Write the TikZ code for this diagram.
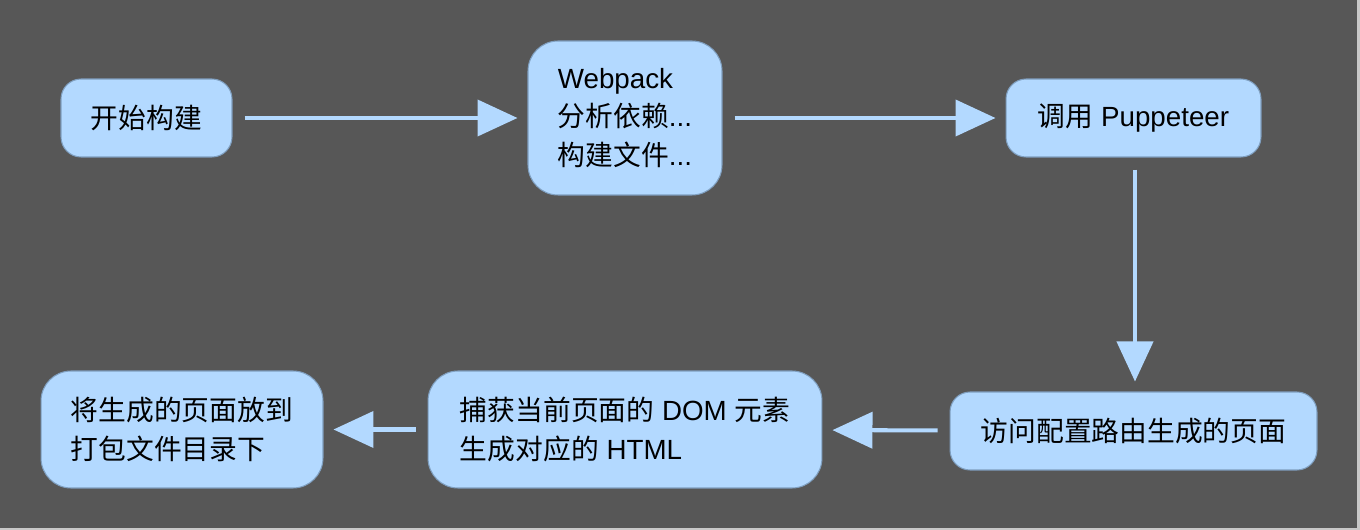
\documentclass[tikz,border=0pt]{standalone}
\usepackage{fontspec}
\setmainfont{Liberation Sans}
\newfontfamily\cjk{Noto Sans CJK SC}
\usetikzlibrary{arrows.meta}
\definecolor{bgdark}{HTML}{575757}
\definecolor{bgedge}{HTML}{C8C8C8}
\definecolor{boxfill}{HTML}{B3D9FF}
\definecolor{boxline}{HTML}{7F9FC0}
\definecolor{flowline}{HTML}{B3D9FF}
\begin{document}
\begin{tikzpicture}[
    x=0.02cm, y=-0.02cm,
    stepbox/.style={rectangle, draw=boxline, fill=boxfill, line width=0.6pt,
        rounded corners=0.5cm, inner sep=0pt, align=left,
        font=\fontsize{15.8}{22}\selectfont},
    flow/.style={draw=flowline, line width=2.3pt,
        -{Triangle[length=0.8cm, width=0.72cm]},
        shorten <=0.24cm, shorten >=0.2cm}
]
% Background
\fill[bgedge] (0,0) rectangle (1360,530);
\fill[bgdark] (0,0) rectangle (1357,528);
\useasboundingbox (0,0) rectangle (1360,530);

% Top row
\node[stepbox, minimum width=3.42cm, minimum height=1.56cm, rounded corners=0.4cm] (start) at (146.5,118) {{\cjk 开始构建}};
\node[stepbox, minimum width=3.88cm, minimum height=3.08cm, rounded corners=0.6cm] (webpack) at (625,118) {Webpack\\{\cjk 分析依赖}...\\{\cjk 构建文件}...};
\node[stepbox, minimum width=5.1cm, minimum height=1.56cm, rounded corners=0.4cm] (puppeteer) at (1133.5,118) {{\cjk 调用} Puppeteer};

% Bottom row
\node[stepbox, minimum width=7.34cm, minimum height=1.56cm, rounded corners=0.4cm] (visit) at (1133.5,431) {{\cjk 访问配置路由生成的页面}};
\node[stepbox, minimum width=7.88cm, minimum height=2.34cm, rounded corners=0.6cm] (capture) at (625,429.5) {{\cjk 捕获当前页面的} DOM {\cjk 元素}\\{\cjk 生成对应的} HTML};
\node[stepbox, minimum width=5.64cm, minimum height=2.34cm, rounded corners=0.6cm] (output) at (182,429.5) {{\cjk 将生成的页面放到}\\{\cjk 打包文件目录下}};

% Connections
\draw[flow] (start) -- (webpack);
\draw[flow] (webpack) -- (puppeteer);
\draw[flow] ([xshift=0.03cm]puppeteer.south) -- ([xshift=0.03cm]visit.north);
\draw[flow] (visit) -- (capture);
\draw[flow] (capture) -- (output);

\end{tikzpicture}
\end{document}
